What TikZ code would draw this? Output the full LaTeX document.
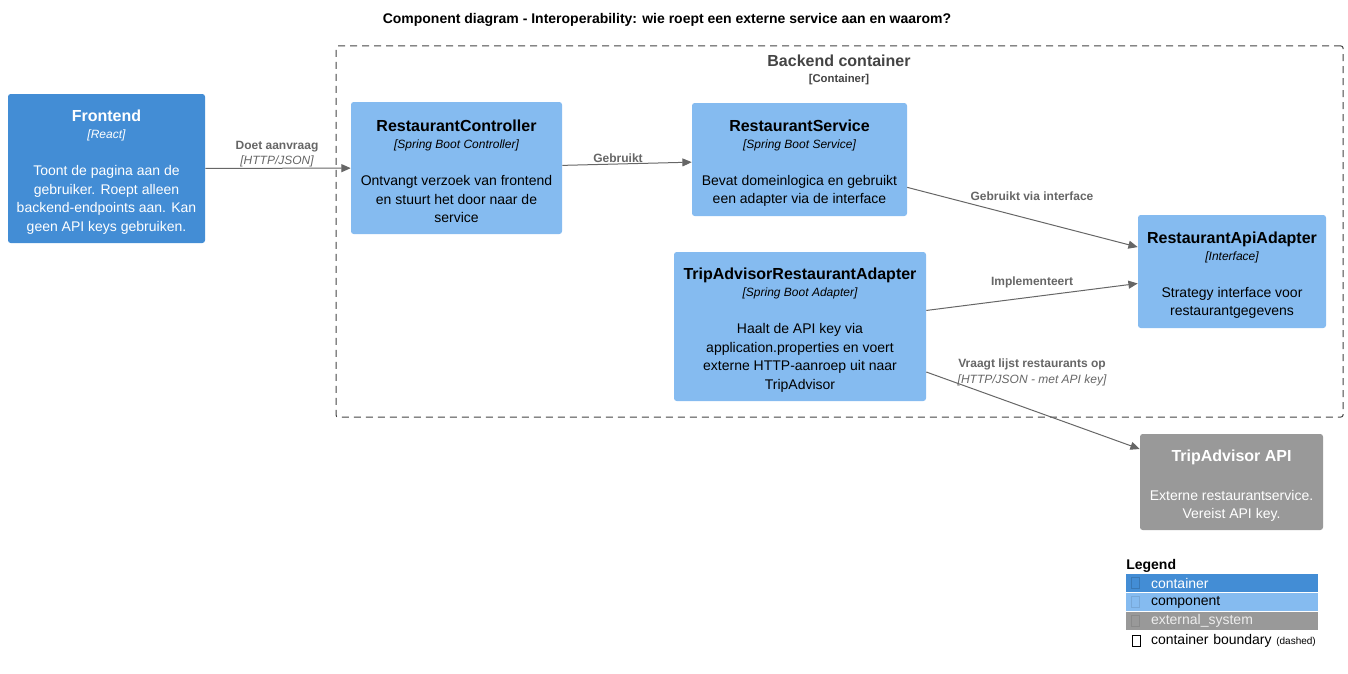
\documentclass[tikz,border=0pt]{standalone}
\usepackage{fontspec}
\setmainfont{Liberation Sans}
\usetikzlibrary{arrows.meta}
\definecolor{containerblue}{HTML}{438DD5}
\definecolor{componentblue}{HTML}{85BBF0}
\definecolor{externalgrey}{HTML}{999999}
\definecolor{relgrey}{HTML}{666666}
\definecolor{boundarygrey}{HTML}{444444}
\newcommand{\elname}[1]{{\fontsize{12}{14}\selectfont\bfseries\rule{0pt}{14pt}#1}}
\newcommand{\eltech}[1]{{\fontsize{9}{11}\selectfont\itshape [#1]}}
\begin{document}
\begin{tikzpicture}[x=0.75pt,y=-0.75pt,
    box/.style={rectangle,rounded corners=2pt,inner sep=0pt,align=center,
      font=\fontsize{10.5}{13.9}\selectfont},
    container/.style={box,fill=containerblue,text=white},
    component/.style={box,fill=componentblue,text=black},
    external/.style={box,fill=externalgrey,text=white},
    boundary/.style={draw=boundarygrey,dash pattern=on 5.25pt off 3.75pt,
      rounded corners=1.5pt,line width=0.75pt,inner sep=0pt},
    rel/.style={draw=relgrey,line width=0.75pt,-{Triangle[length=7pt,width=6pt]}},
    rellabel/.style={text=relgrey,align=center,inner sep=0pt,
      font=\fontsize{9}{11.25}\selectfont\bfseries},
    legrow/.style={rectangle,inner sep=0pt,minimum height=13.5pt,text width=144pt,
      align=left,font=\fontsize{10.5}{12}\selectfont}]
  \useasboundingbox (0,0) rectangle (1348,674);

  \node[font=\fontsize{10.5}{12}\selectfont\bfseries] (title) at (667,20)
    {Component diagram - Interoperability: wie roept een externe service aan en waarom?};

  \node[boundary,minimum width=755.25pt,minimum height=278.25pt] (backend) at (839.5,231.5) {};
  \node[text=boundarygrey,font=\fontsize{12}{14}\selectfont\bfseries] (backendname) at (839,61) {Backend container};
  \node[text=boundarygrey,font=\fontsize{8.5}{10}\selectfont\bfseries] (backendtech) at (839,79.5) {[Container]};

  \node[container,minimum width=147.75pt,minimum height=111.75pt] (frontend) at (106.5,168.5)
    {\elname{Frontend}\\[-1.1pt]\eltech{React}\\[13.9pt]Toont de pagina aan de\\gebruiker. Roept alleen\\backend-endpoints aan. Kan\\geen API keys gebruiken.};
  \node[component,minimum width=158.25pt,minimum height=99pt] (controller) at (456.5,168)
    {\elname{RestaurantController}\\[-1.1pt]\eltech{Spring Boot Controller}\\[13.9pt]Ontvangt verzoek van frontend\\en stuurt het door naar de\\service};
  \node[component,minimum width=161.25pt,minimum height=84.75pt] (service) at (799.5,159.5)
    {\elname{RestaurantService}\\[-1.1pt]\eltech{Spring Boot Service}\\[13.9pt]Bevat domeinlogica en gebruikt\\een adapter via de interface};
  \node[component,minimum width=189pt,minimum height=111.75pt] (tripadapter) at (800,326.5)
    {\elname{TripAdvisorRestaurantAdapter}\\[-1.1pt]\eltech{Spring Boot Adapter}\\[13.9pt]Haalt de API key via\\application.properties en voert\\externe HTTP-aanroep uit naar\\TripAdvisor};
  \node[component,minimum width=141pt,minimum height=84.75pt] (apiadapter) at (1232,271.5)
    {\elname{RestaurantApiAdapter}\\[-1.1pt]\eltech{Interface}\\[13.9pt]Strategy interface voor\\restaurantgegevens};
  \node[external,minimum width=137.25pt,minimum height=72pt] (tripapi) at (1231.5,482)
    {\elname{TripAdvisor API}\\[15.3pt]Externe restaurantservice.\\Vereist API key.};

  \begin{scope}[rel]
    \draw (frontend) -- (controller);
    \draw (controller) -- (service);
    \draw (service) -- (apiadapter);
    \draw (tripadapter) -- (apiadapter);
    \draw (tripadapter) -- (tripapi);
  \end{scope}

  \node[rellabel] (lblrequest) at (277,154) {Doet aanvraag\\{\mdseries\itshape [HTTP/JSON]}};
  \node[rellabel] (lbluses) at (618,158.5) {Gebruikt};
  \node[rellabel] (lblviaiface) at (1032,196.5) {Gebruikt via interface};
  \node[rellabel] (lblimpl) at (1032,282.5) {Implementeert};
  \node[rellabel,font=\fontsize{9}{12}\selectfont\bfseries] (lblfetch) at (1032,372.5)
    {Vraagt lijst restaurants op\\{\mdseries\itshape [HTTP/JSON - met API key]}};

  \node[anchor=west,inner sep=0pt,font=\fontsize{10.5}{12}\selectfont\bfseries] (legend) at (1126,566) {Legend};
  \node[legrow,fill=containerblue,text=white] (lgcont) at (1222,583) {\hspace*{18.75pt}container};
  \node[legrow,fill=componentblue,text=black] (lgcomp) at (1222,602) {\hspace*{18.75pt}component};
  \node[legrow,fill=externalgrey,text=white!93!black] (lgext) at (1222,620.5) {\hspace*{18.75pt}external\_system};
  \node[legrow,text=black] (lgbound) at (1222,641)
    {\hspace*{18.75pt}container boundary {\fontsize{7.5}{9}\selectfont(dashed)}};
  \draw[containerblue!85!black,line width=0.4pt] ([shift={(6,-5.5)}]lgcont.west) rectangle ++(8,11);
  \draw[componentblue!90!black,line width=0.4pt] ([shift={(6,-5.5)}]lgcomp.west) rectangle ++(8,11);
  \draw[externalgrey!90!black,line width=0.4pt] ([shift={(6,-5.5)}]lgext.west) rectangle ++(8,11);
  \draw[black,line width=0.5pt] ([shift={(7,-5.5)}]lgbound.west) rectangle ++(8,11);
\end{tikzpicture}
\end{document}
